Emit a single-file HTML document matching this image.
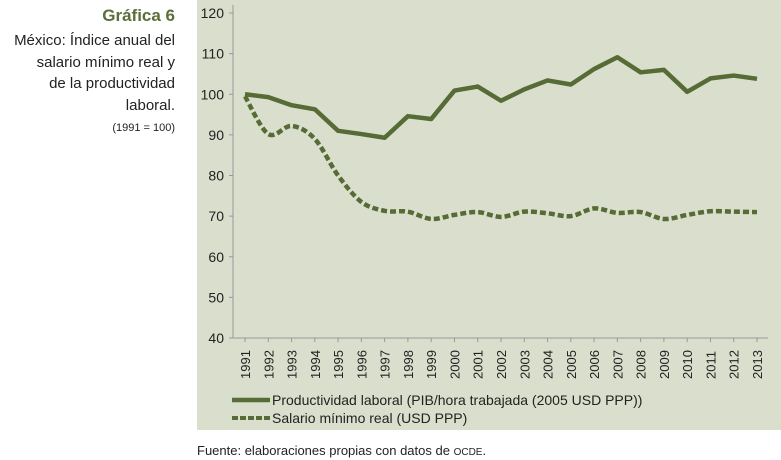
<!DOCTYPE html>
<html><head><meta charset="utf-8"><style>
body{margin:0;width:781px;height:460px;background:#fff;font-family:"Liberation Sans",sans-serif;position:relative;overflow:hidden}
.t{position:absolute;right:606px;text-align:right;white-space:nowrap}
</style></head><body>
<div class="t" style="top:6px;font-size:17px;font-weight:bold;color:#5b6f38">Gráfica 6</div>
<div class="t" style="top:30px;font-size:15px;line-height:21.5px;color:#222">México: Índice anual del<br>salario mínimo real y<br>de la productividad<br>laboral.</div>
<div class="t" style="top:122px;font-size:11px;color:#222">(1991 = 100)</div>
<svg width="781" height="460" style="position:absolute;left:0;top:0">
<rect x="197" y="0" width="584" height="430" fill="#d9dfcc"/>
<g id="ax"></g><g id="ln"></g>
<g>
<line x1="232" y1="400" x2="270" y2="400" stroke="#566b36" stroke-width="4.5"/>
<text x="272" y="405" font-size="14" fill="#222">Productividad laboral (PIB/hora trabajada (2005 USD PPP))</text>
<line x1="232" y1="418" x2="270" y2="418" stroke="#566b36" stroke-width="4" stroke-dasharray="6,2"/>
<text x="272" y="423" font-size="14" fill="#222">Salario mínimo real (USD PPP)</text>
</g>
<text x="197" y="455" font-size="13" fill="#222">Fuente: elaboraciones propias con datos de <tspan font-size="10">OCDE</tspan>.</text>
</svg>
<script>
const years=[1991,1992,1993,1994,1995,1996,1997,1998,1999,2000,2001,2002,2003,2004,2005,2006,2007,2008,2009,2010,2011,2012,2013];
const productivity=[100,99.3,97.3,96.3,91,90.2,89.3,94.6,93.9,100.9,101.9,98.4,101.2,103.4,102.4,106.2,109.1,105.4,106,100.6,103.9,104.6,103.8];
const wage=[99.5,90.2,92.2,89,80,73.5,71.3,71.1,69.3,70.3,71,69.8,71.1,70.7,70,71.9,70.8,71,69.3,70.3,71.2,71.1,71];
const yTicks=[40,50,60,70,80,90,100,110,120];
const NS='http://www.w3.org/2000/svg';
const X=i=>245+i*(757-245)/(years.length-1);
const Y=v=>338-(v-40)*(325/80);
const ax=document.getElementById('ax'),ln=document.getElementById('ln');
function mk(t,a,p){const e=document.createElementNS(NS,t);for(const k in a)e.setAttribute(k,a[k]);(p||ax).appendChild(e);return e;}
let e=mk('line',{x1:233,y1:5,x2:233,y2:338,stroke:'#999','stroke-width':1});


e=mk('line',{x1:233,y1:338,x2:768,y2:338,stroke:'#999','stroke-width':1});


yTicks.forEach(v=>{
 mk('line',{x1:229,x2:233,y1:Y(v),y2:Y(v),stroke:'#999'});
 const t=mk('text',{x:224,y:Y(v)+5,'text-anchor':'end','font-size':14,fill:'#222'});t.textContent=v;
 
 
});
years.forEach((y,i)=>{
 mk('line',{x1:X(i),x2:X(i),y1:338,y2:342,stroke:'#999'});
 const t=mk('text',{x:0,y:0,'font-size':13,fill:'#222',transform:`translate(${X(i)+5},379) rotate(-90)`});t.textContent=y;
 
 
});
function smooth(vals){const p=vals.map((v,i)=>[X(i),Y(v)]);let d=`M${p[0][0]},${p[0][1]}`;
 for(let i=0;i<p.length-1;i++){const p0=p[i-1]||p[i],p1=p[i],p2=p[i+1],p3=p[i+2]||p2;
 d+=` C${p1[0]+(p2[0]-p0[0])/6},${p1[1]+(p2[1]-p0[1])/6} ${p2[0]-(p3[0]-p1[0])/6},${p2[1]-(p3[1]-p1[1])/6} ${p2[0]},${p2[1]}`;}return d;}
e=mk('polyline',{points:productivity.map((v,i)=>X(i)+','+Y(v)).join(' '),fill:'none',stroke:'#566b36','stroke-width':4.5,'stroke-linejoin':'round'},ln);


e=mk('path',{d:smooth(wage),fill:'none',stroke:'#566b36','stroke-width':4.5,'stroke-dasharray':'6,3'},ln);


</script>
</body></html>
